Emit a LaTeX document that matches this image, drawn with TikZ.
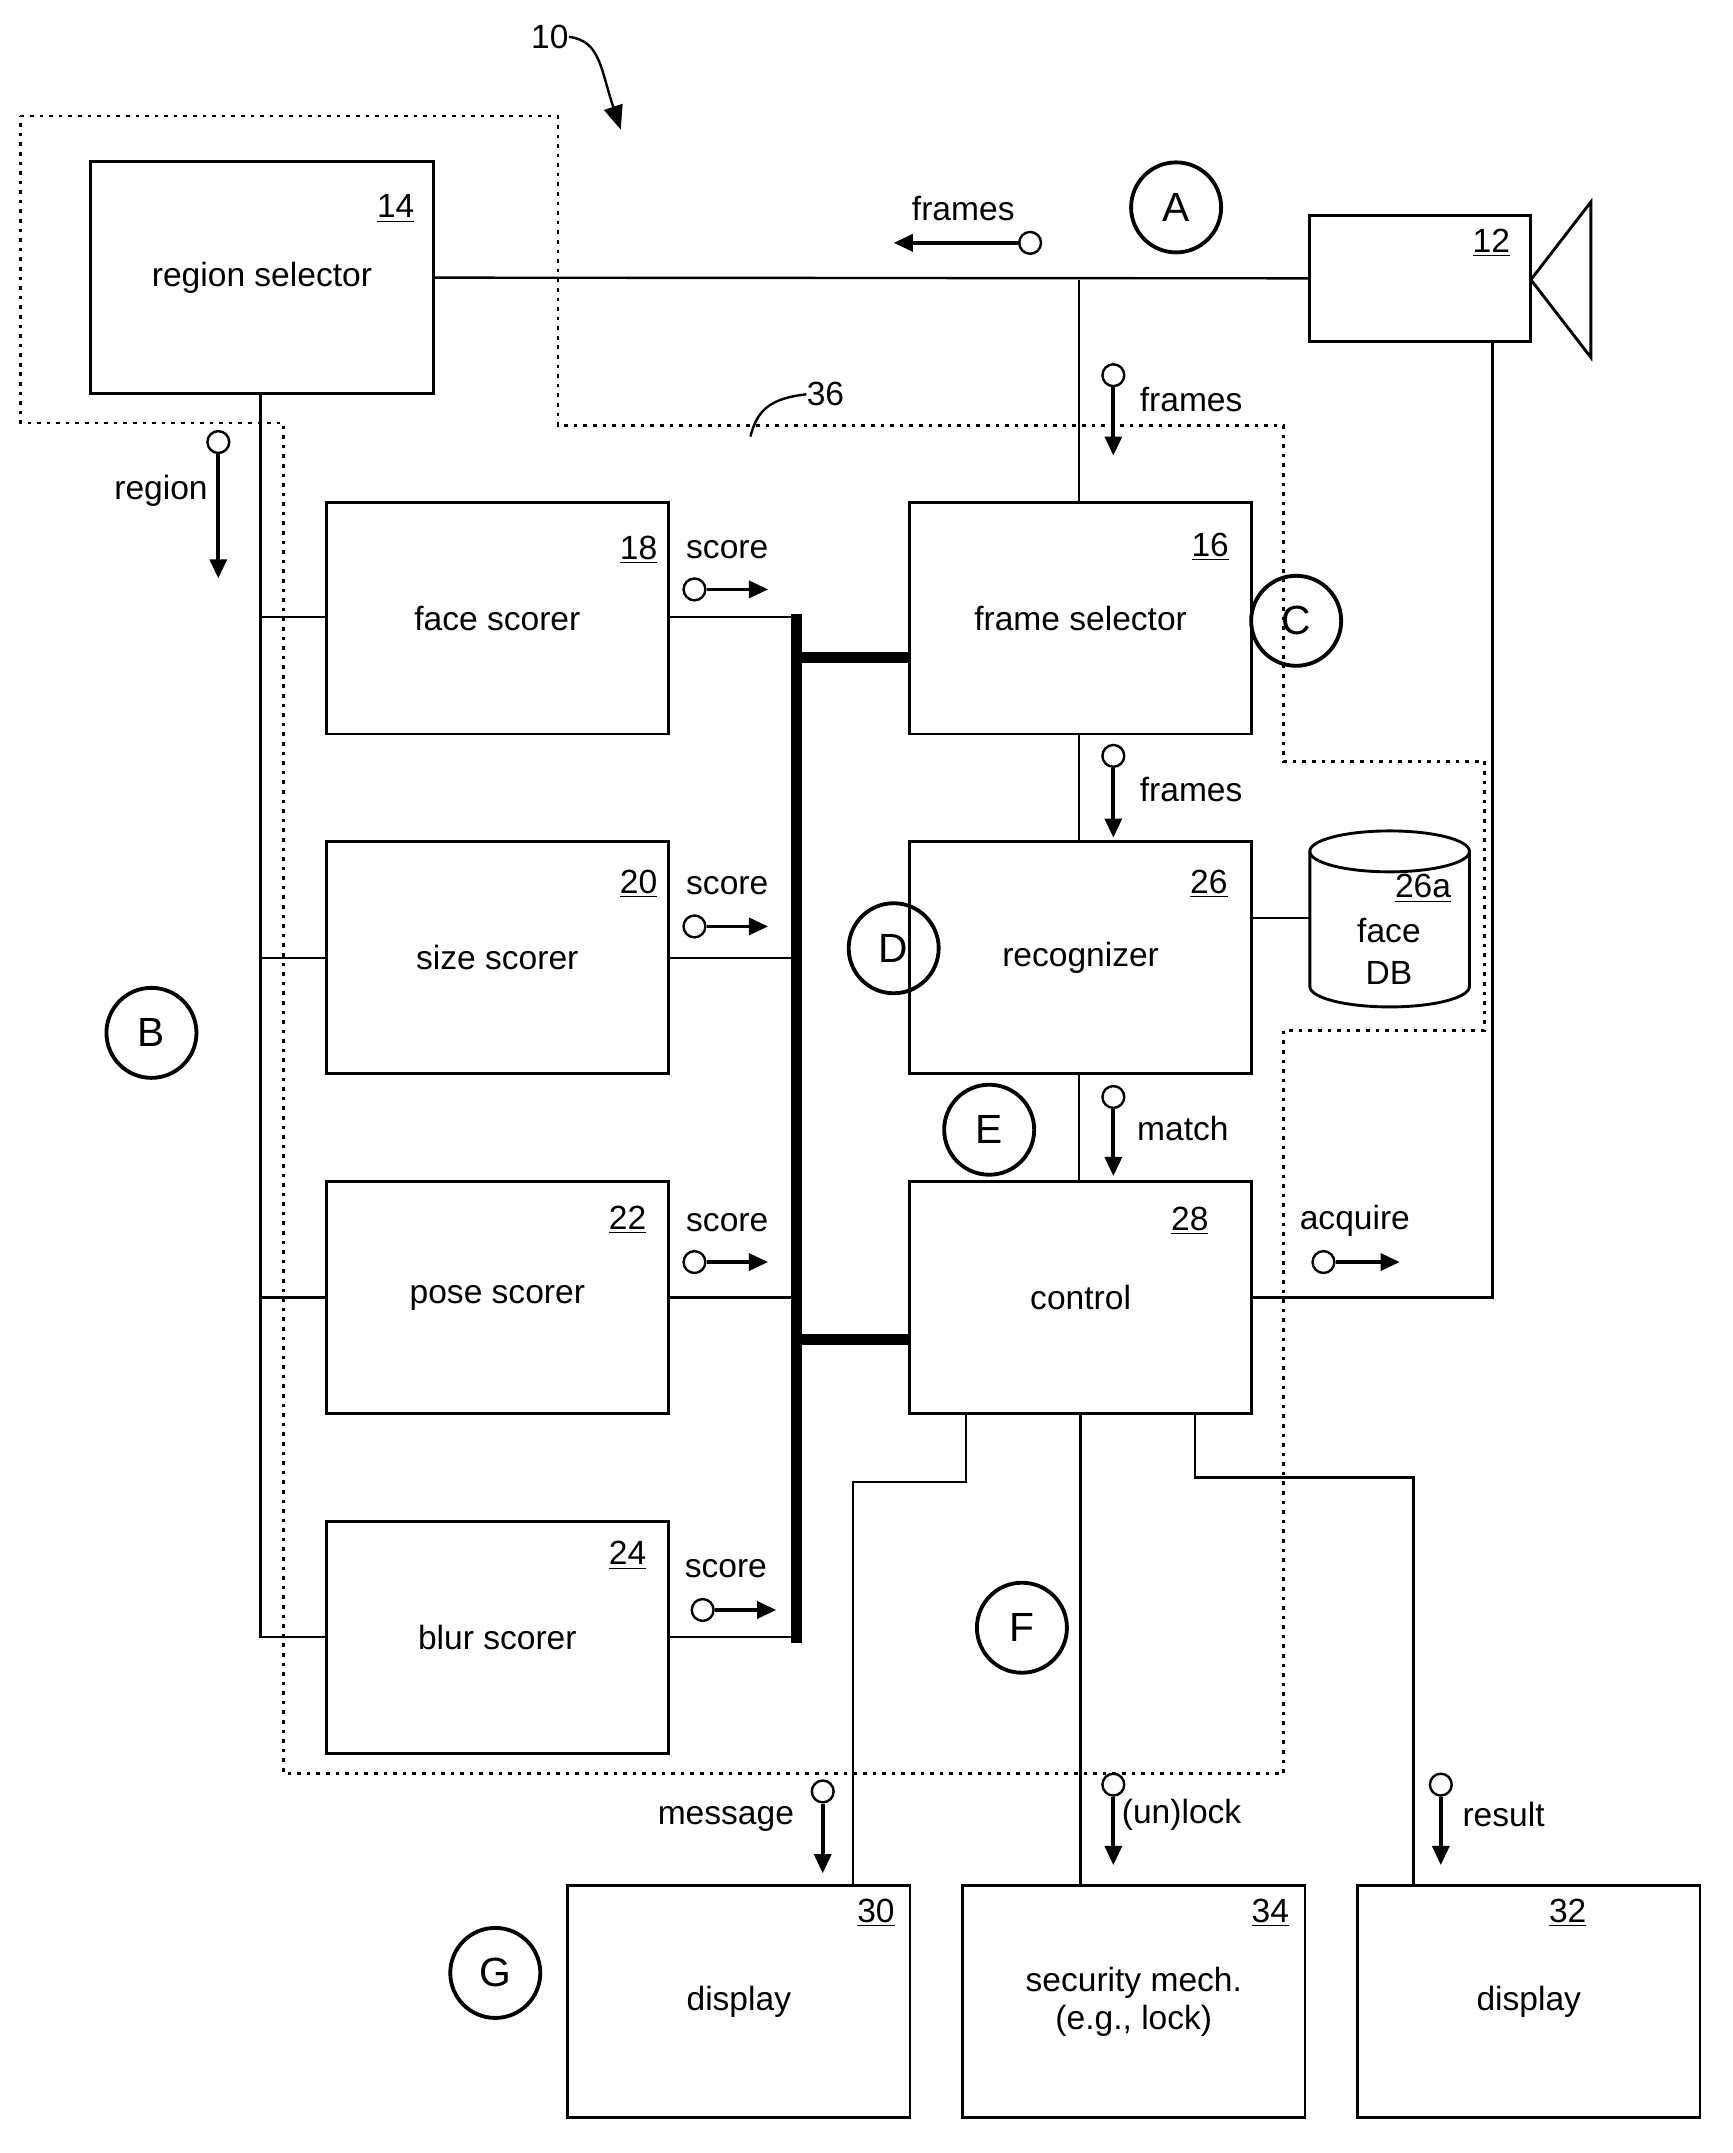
\documentclass[tikz,border=0pt]{standalone}
\usepackage{fontspec}
\setmainfont{Liberation Sans}
\usetikzlibrary{arrows.meta}
\begin{document}
\begin{tikzpicture}[x=0.02cm,y=-0.02cm,
  every node/.style={font=\fontsize{14}{16}\selectfont},
  box/.style={draw,line width=1.2pt,minimum width=5.02cm,minimum height=3.4cm,inner sep=0pt},
  num/.style={inner sep=0pt},
  big/.style={draw,circle,line width=1.6pt,minimum size=1.32cm,inner sep=0pt,font=\fontsize{17}{18}\selectfont},
  sig/.style={draw,circle,line width=1pt,minimum size=0.32cm,inner sep=0pt},
  sarr/.style={line width=1.6pt,-{Triangle[length=8pt,width=7pt]}},
  ln/.style={line width=1pt},
  bus/.style={line width=4.5pt},
  dot/.style={line width=1.2pt,dash pattern=on 1.5pt off 2.5pt}]
\useasboundingbox (0,0) rectangle (1270,1578);
% dotted region
\draw[dot] (15,85) -- (409,85) -- (409,312) -- (941,312) -- (941,558) -- (1088,558) -- (1088,755) -- (941,755) -- (941,1300) -- (208,1300) -- (208,310) -- (15,310) -- cycle;
\node[num] (l36) at (605,289) {36};
\coordinate (c36) at (550,320);
\draw[ln] (c36) .. controls (555,300) and (565,292) .. (l36.west);
\node[num] (l10) at (403,27) {10};
\coordinate (a10) at (455,95);
\draw[ln,-{Triangle[length=10pt,width=8pt]}] (l10.east) .. controls (440,30) and (440,50) .. (a10);
% boxes
\node[box] (rs) at (192,203.5) {region selector};
\node[num] at (290,153) {\underline{14}};
\node[draw,line width=1.2pt,minimum width=3.24cm,minimum height=1.84cm,inner sep=0pt] (cam) at (1041,204) {};
\node[num] at (1093,178) {\underline{12}};
\coordinate (ca) at (1122,205);
\coordinate (ct) at (1166,148);
\coordinate (cb) at (1166,262);
\draw[line width=1.2pt] (ca) -- (ct) -- (cb) -- cycle;
\node[box] (frs) at (792,453) {frame selector};
\node[num] at (887,401) {\underline{16}};
\node[box] (fs) at (364.5,453) {face scorer};
\node[num] at (468,403) {\underline{18}};
\node[box] (ss) at (364.5,702) {size scorer};
\node[num] at (468,648) {\underline{20}};
\node[box] (ps) at (364.5,951) {pose scorer};
\node[num] at (460,894) {\underline{22}};
\node[box] (bs) at (364.5,1200) {blur scorer};
\node[num] at (460,1140) {\underline{24}};
\node[box] (rec) at (792,702) {recognizer};
\node[num] at (886,648) {\underline{26}};
\node[box] (ctl) at (792,951) {control};
\node[num] at (872,895) {\underline{28}};
\node[box] (d30) at (541.5,1467) {display};
\node[num] at (642,1402) {\underline{30}};
\node[box,align=center] (d34) at (831,1467) {security mech.\\(e.g., lock)};
\node[num] at (931,1402) {\underline{34}};
\node[box] (d32) at (1120.5,1467) {display};
\node[num] at (1149,1402) {\underline{32}};
% face DB cylinder
\coordinate (db) at (960,673);
\draw[line width=1.2pt] (960,624) -- (960,723) arc[x radius=58.5,y radius=15,start angle=180,end angle=0] -- (1077,624);
\draw[line width=1.2pt] (1018.5,624) ellipse[x radius=58.5,y radius=15];
\node[num] at (1043,651) {\underline{26a}};
\node[num] at (1018,682) {face};
\node[num] at (1018,713) {DB};
% big letters
\node[big] at (862,152) {A};
\node[big] at (111,757) {B};
\node[big] at (950,455) {C};
\node[big] at (655,695) {D};
\node[big] at (725,828) {E};
\node[big] at (749,1193) {F};
\node[big] at (363,1446) {G};
% connectors
\draw[ln] (rs.east) -- (cam.west);
\coordinate (j1) at (791,205);
\draw[ln] (j1) -- (frs.north -| j1);
\draw[ln] (frs.south -| j1) -- (rec.north -| j1);
\draw[ln] (rec.south -| j1) -- (ctl.north -| j1);
\draw[ln] (rec.east |- db) -- (db);
\coordinate (lv) at (191,1200);
\draw[ln] (rs.south -| lv) -- (lv) -- (bs.west);
\foreach \n/\y in {fs/452,ss/702,ps/951} \draw[ln] (191,\y) -- (\n.west |- 0,\y);
\coordinate (bt) at (584,450);
\coordinate (bb) at (584,1204);
\draw[bus] (bt) -- (bb);
\draw[bus] (584,482) -- (frs.west |- 0,482);
\draw[bus] (584,982) -- (ctl.west |- 0,982);
\foreach \n/\y in {fs/452,ss/702,ps/951,bs/1200} \draw[ln] (\n.east |- 0,\y) -- (584,\y);
\coordinate (aq) at (1094,951);
\draw[ln] (ctl.east |- aq) -- (aq) -- (cam.south -| aq);
\draw[ln] (708,1036) -- (708,1086) -- (625,1086) -- (d30.north -| 625,0);
\draw[ln] (ctl.south) -- (d34.north -| ctl.south);
\draw[ln] (876,1036) -- (876,1083) -- (1036,1083) -- (d32.north -| 1036,0);
% signals
\node[sig] (s1) at (755,178) {}; \coordinate (e1) at (655,178);
\draw[sarr] (s1.west) -- (e1); \node at (706,153) {frames};
\node[sig] (s2) at (816,275) {}; \coordinate (e2) at (816,334);
\draw[sarr] (s2.south) -- (e2); \node at (873,293) {frames};
\node[sig] (s3) at (160,324) {}; \coordinate (e3) at (160,424);
\draw[sarr] (s3.south) -- (e3); \node at (118,360) {region};
\node[sig] (s4) at (816,554) {}; \coordinate (e4) at (816,614);
\draw[sarr] (s4.south) -- (e4); \node at (873,579) {frames};
\node[sig] (s5) at (816,804) {}; \coordinate (e5) at (816,862);
\draw[sarr] (s5.south) -- (e5); \node at (867,827) {match};
\node[sig] (s6) at (970,925) {}; \coordinate (e6) at (1026,925);
\draw[sarr] (s6.east) -- (e6); \node at (993,895) {acquire};
\foreach \i/\y/\ly in {7/432/403,8/679/649,9/925/896} {
  \node[sig] (s\i) at (509,\y) {}; \coordinate (e\i) at (563,\y);
  \draw[sarr] (s\i.east) -- (e\i); \node at (533,\ly) {score};}
\node[sig] (s10) at (515,1180) {}; \coordinate (e10) at (569,1180);
\draw[sarr] (s10.east) -- (e10); \node at (532,1150) {score};
\node[sig] (s11) at (603,1313) {}; \coordinate (e11) at (603,1373);
\draw[sarr] (s11.south) -- (e11); \node at (532,1333) {message};
\node[sig] (s12) at (816,1308) {}; \coordinate (e12) at (816,1367);
\draw[sarr] (s12.south) -- (e12); \node at (866,1330) {(un)lock};
\node[sig] (s13) at (1056,1308) {}; \coordinate (e13) at (1056,1367);
\draw[sarr] (s13.south) -- (e13); \node at (1102,1330) {result};
\end{tikzpicture}
\end{document}
